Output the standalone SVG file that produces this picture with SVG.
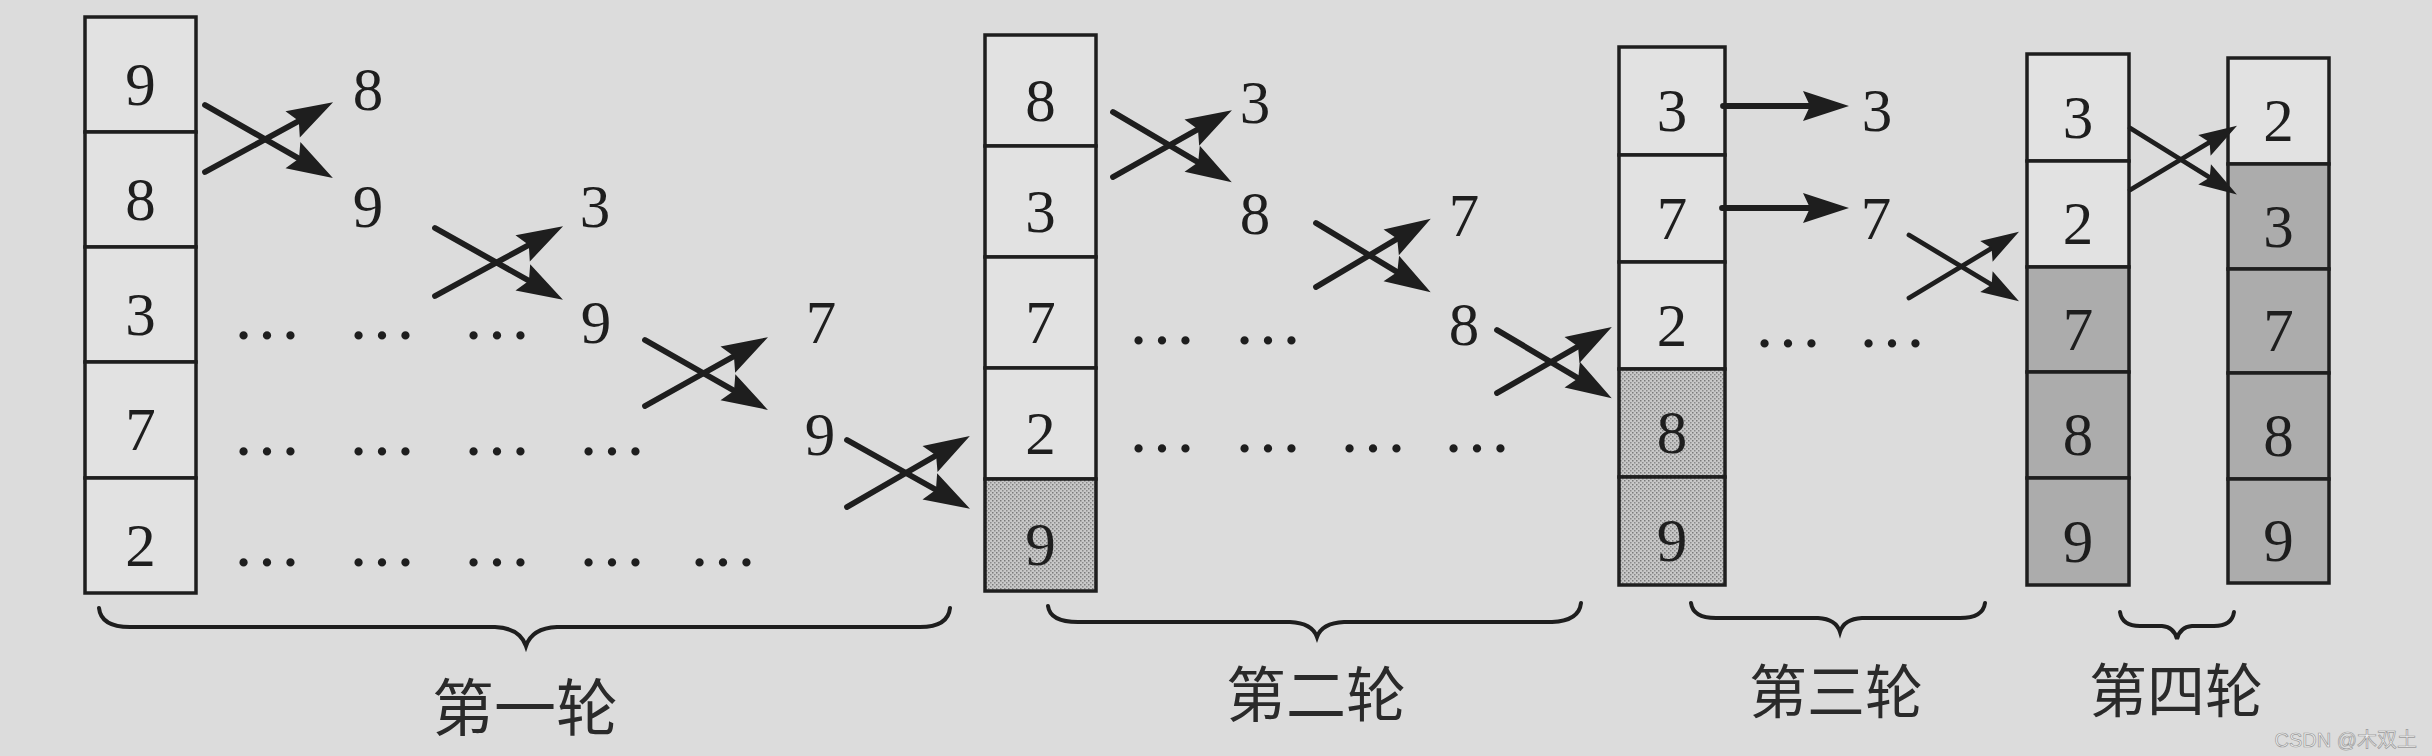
<svg xmlns="http://www.w3.org/2000/svg" width="2432" height="756" viewBox="0 0 2432 756">
<defs>
<style>
.cell{fill:#e2e2e2;stroke:#1e1e1e;stroke-width:3.5}
.st{fill:url(#stipple);stroke:#1e1e1e;stroke-width:3.5}
.gr{fill:#acacac;stroke:#1e1e1e;stroke-width:3.5}
.d{font-family:"Liberation Serif","Times New Roman",serif;font-size:61px;fill:#1e1e1e;text-anchor:middle}
.dots{font-family:"Liberation Serif","Times New Roman",serif;font-size:70px;fill:#1e1e1e;text-anchor:middle}
.lab{font-family:"Noto Sans CJK SC","Noto Sans",sans-serif;fill:#2a2a2a;text-anchor:middle}
.ar{stroke:#1e1e1e;stroke-width:5.8;fill:none;stroke-linecap:round;marker-end:url(#ah)}
.ars{stroke:#1e1e1e;stroke-width:4.8;fill:none;stroke-linecap:round;marker-end:url(#ahs)}
.br{stroke:#1e1e1e;stroke-width:4;fill:none;stroke-linecap:round}
</style>
<pattern id="stipple" width="4" height="4" patternUnits="userSpaceOnUse">
<rect width="4" height="4" fill="#c8c8c8"/>
<rect x="0" y="0" width="1.5" height="1.5" fill="#7a7a7a"/>
<rect x="2" y="2" width="1.5" height="1.5" fill="#8a8a8a"/>
</pattern>
<marker id="ah" markerUnits="userSpaceOnUse" markerWidth="80" markerHeight="80" refX="0" refY="0" orient="auto" overflow="visible">
<path d="M16,0 L-30,-15 L-23,0 L-30,15 Z" fill="#1e1e1e"/>
</marker>
<marker id="ahs" markerUnits="userSpaceOnUse" markerWidth="80" markerHeight="80" refX="0" refY="0" orient="auto" overflow="visible">
<path d="M14,0 L-24,-12 L-18,0 L-24,12 Z" fill="#1e1e1e"/>
</marker>
</defs>
<rect width="2432" height="756" fill="#dcdcdc"/>

<g id="col1">
<rect class="cell" x="85" y="17" width="111" height="115"/>
<rect class="cell" x="85" y="132" width="111" height="115"/>
<rect class="cell" x="85" y="247" width="111" height="115"/>
<rect class="cell" x="85" y="362" width="111" height="116"/>
<rect class="cell" x="85" y="478" width="111" height="115"/>
<text class="d" x="140.5" y="105">9</text>
<text class="d" x="140.5" y="220">8</text>
<text class="d" x="140.5" y="335">3</text>
<text class="d" x="140.5" y="450">7</text>
<text class="d" x="140.5" y="566">2</text>
</g>

<g id="col2">
<rect class="cell" x="985" y="35" width="111" height="111"/>
<rect class="cell" x="985" y="146" width="111" height="111"/>
<rect class="cell" x="985" y="257" width="111" height="111"/>
<rect class="cell" x="985" y="368" width="111" height="111"/>
<rect class="st" x="985" y="479" width="111" height="112"/>
<text class="d" x="1040.5" y="121">8</text>
<text class="d" x="1040.5" y="232">3</text>
<text class="d" x="1040.5" y="343">7</text>
<text class="d" x="1040.5" y="454">2</text>
<text class="d" x="1040.5" y="565">9</text>
</g>

<g id="col3">
<rect class="cell" x="1619" y="47" width="106" height="108"/>
<rect class="cell" x="1619" y="155" width="106" height="107"/>
<rect class="cell" x="1619" y="262" width="106" height="107"/>
<rect class="st" x="1619" y="369" width="106" height="108"/>
<rect class="st" x="1619" y="477" width="106" height="108"/>
<text class="d" x="1672" y="131">3</text>
<text class="d" x="1672" y="239">7</text>
<text class="d" x="1672" y="346">2</text>
<text class="d" x="1672" y="453">8</text>
<text class="d" x="1672" y="561">9</text>
</g>

<g id="col4">
<rect class="cell" x="2027" y="54" width="102" height="107"/>
<rect class="cell" x="2027" y="161" width="102" height="106"/>
<rect class="gr" x="2027" y="267" width="102" height="105"/>
<rect class="gr" x="2027" y="372" width="102" height="106"/>
<rect class="gr" x="2027" y="478" width="102" height="107"/>
<text class="d" x="2078" y="138">3</text>
<text class="d" x="2078" y="244">2</text>
<text class="d" x="2078" y="350">7</text>
<text class="d" x="2078" y="455">8</text>
<text class="d" x="2078" y="562">9</text>
</g>

<g id="col5">
<rect class="cell" x="2228" y="58" width="101" height="106"/>
<rect class="gr" x="2228" y="164" width="101" height="105"/>
<rect class="gr" x="2228" y="269" width="101" height="104"/>
<rect class="gr" x="2228" y="373" width="101" height="106"/>
<rect class="gr" x="2228" y="479" width="101" height="104"/>
<text class="d" x="2278.5" y="141">2</text>
<text class="d" x="2278.5" y="247">3</text>
<text class="d" x="2278.5" y="351">7</text>
<text class="d" x="2278.5" y="456">8</text>
<text class="d" x="2278.5" y="561">9</text>
</g>

<g id="round1-values">
<text class="d" x="368" y="110">8</text>
<text class="d" x="368" y="227">9</text>
<text class="d" x="595" y="227">3</text>
<text class="d" x="596" y="343">9</text>
<text class="d" x="821" y="343">7</text>
<text class="d" x="820" y="455">9</text>
<text class="dots" x="267" y="339">…</text>
<text class="dots" x="382" y="339">…</text>
<text class="dots" x="497" y="339">…</text>
<text class="dots" x="267" y="455">…</text>
<text class="dots" x="382" y="455">…</text>
<text class="dots" x="497" y="455">…</text>
<text class="dots" x="612" y="455">…</text>
<text class="dots" x="267" y="566">…</text>
<text class="dots" x="382" y="566">…</text>
<text class="dots" x="497" y="566">…</text>
<text class="dots" x="612" y="566">…</text>
<text class="dots" x="723" y="566">…</text>
</g>

<g id="round2-values">
<text class="d" x="1255" y="123">3</text>
<text class="d" x="1255" y="234">8</text>
<text class="d" x="1464" y="236">7</text>
<text class="d" x="1464" y="345">8</text>
<text class="dots" x="1162" y="344">…</text>
<text class="dots" x="1268" y="344">…</text>
<text class="dots" x="1162" y="452">…</text>
<text class="dots" x="1268" y="452">…</text>
<text class="dots" x="1373" y="452">…</text>
<text class="dots" x="1477" y="452">…</text>
</g>

<g id="round3-values">
<text class="d" x="1877" y="131">3</text>
<text class="d" x="1876" y="239">7</text>
<text class="dots" x="1788" y="347">…</text>
<text class="dots" x="1892" y="347">…</text>
</g>

<g id="connectors">
<line class="ar" x1="205" y1="105" x2="319" y2="170"/>
<line class="ar" x1="205" y1="172" x2="319" y2="110"/>
<line class="ar" x1="435" y1="228" x2="549" y2="292"/>
<line class="ar" x1="435" y1="296" x2="549" y2="234"/>
<line class="ar" x1="645" y1="340" x2="754" y2="402"/>
<line class="ar" x1="645" y1="406" x2="754" y2="345"/>
<line class="ar" x1="847" y1="440" x2="956" y2="501"/>
<line class="ar" x1="847" y1="507" x2="956" y2="444"/>
<line class="ar" x1="1113" y1="112" x2="1218" y2="174"/>
<line class="ar" x1="1113" y1="177" x2="1218" y2="118"/>
<line class="ar" x1="1316" y1="223" x2="1417" y2="284"/>
<line class="ar" x1="1316" y1="287" x2="1417" y2="227"/>
<line class="ar" x1="1497" y1="330" x2="1598" y2="390"/>
<line class="ar" x1="1497" y1="393" x2="1598" y2="335"/>
<line class="ar" x1="1723" y1="106" x2="1833" y2="106"/>
<line class="ar" x1="1722" y1="208" x2="1833" y2="208"/>
<line class="ars" x1="1909" y1="235" x2="2007" y2="294"/>
<line class="ars" x1="1909" y1="298" x2="2007" y2="239"/>
<line class="ars" x1="2130" y1="128" x2="2225" y2="187"/>
<line class="ars" x1="2130" y1="190" x2="2225" y2="133"/>
</g>

<g id="braces">
<path class="br" d="M99,608 Q101,627 130,627 L495,627 Q520,628 526,646 Q532,628 557,627 L920,627 Q948,627 950,608"/>
<path class="br" d="M1048,606 Q1050,622 1078,622 L1290,622 Q1312,623 1317,637 Q1322,623 1344,622 L1552,622 Q1579,621 1581,603"/>
<path class="br" d="M1691,603 Q1693,618 1716,618 L1818,618 Q1836,619 1840,632 Q1844,619 1862,618 L1960,618 Q1983,618 1985,603"/>
<path class="br" d="M2120,612 Q2122,626 2140,626 L2162,626 Q2174,627 2177,639 Q2180,627 2192,626 L2214,626 Q2232,626 2234,612"/>
</g>

<g id="labels">
<text class="lab" x="525" y="731" font-size="62">第一轮</text>
<text class="lab" x="1316" y="717" font-size="60">第二轮</text>
<text class="lab" x="1836" y="713" font-size="58">第三轮</text>
<text class="lab" x="2176" y="712" font-size="58">第四轮</text>
</g>

<text x="2417" y="747" text-anchor="end" font-family="Liberation Sans, Noto Sans CJK SC, sans-serif" font-size="20" fill="#f2f2f2" stroke="#9a9a9a" stroke-width="0.7">CSDN @木双土</text>
</svg>
